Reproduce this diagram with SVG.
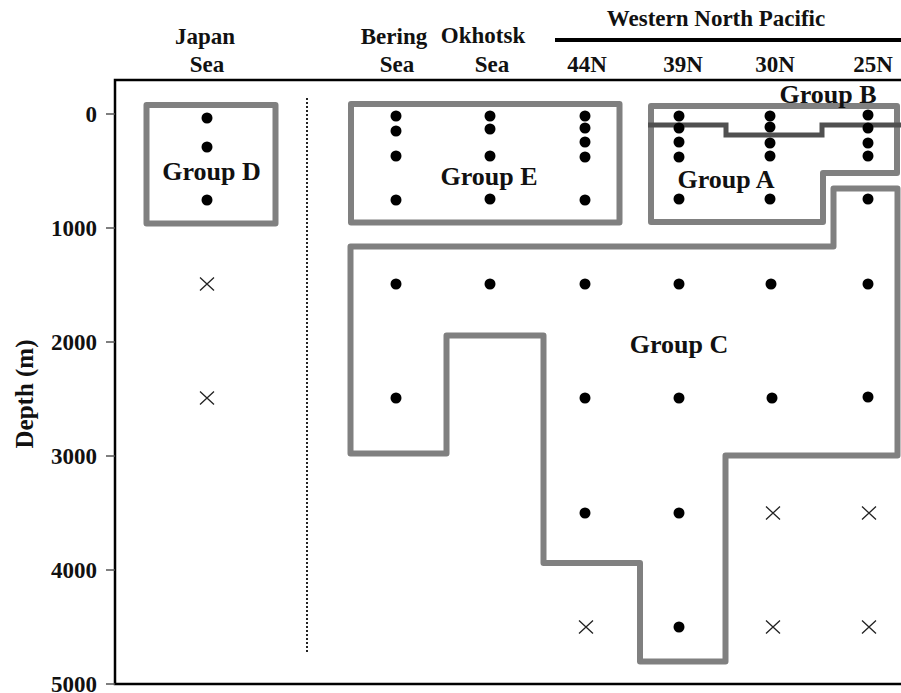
<svg xmlns="http://www.w3.org/2000/svg" width="901" height="693" viewBox="0 0 901 693">
  <style>
    .lbl { font-family: "Liberation Serif", "Times New Roman", serif; font-weight: bold; font-size: 23px; fill: #111; }
    .grp { font-family: "Liberation Serif", "Times New Roman", serif; font-weight: bold; font-size: 26px; fill: #111; text-anchor: middle; }
    .box { fill: none; stroke: #808080; stroke-width: 6; stroke-linejoin: round; }
    .dot { fill: #000; }
    .x { stroke: #222; stroke-width: 1.3; fill: none; }
    .tick { stroke: #555; stroke-width: 1.5; }
    .axis { stroke: #000; stroke-width: 2.5; fill: none; }
  </style>
  <defs>
    <circle id="pt" r="5.5" class="dot"/>
    <path id="cx" class="x" d="M-7,-6.5 L7,6.5 M-7,6.5 L7,-6.5"/>
  </defs>
  <rect width="901" height="693" fill="#fff"/>

  <!-- frame -->
  <g id="frame">
    <path class="axis" d="M901,80 H115 V684 H901"/>
    <line class="tick" x1="106" y1="114" x2="115" y2="114"/>
    <line class="tick" x1="106" y1="228" x2="115" y2="228"/>
    <line class="tick" x1="106" y1="342" x2="115" y2="342"/>
    <line class="tick" x1="106" y1="456" x2="115" y2="456"/>
    <line class="tick" x1="106" y1="570" x2="115" y2="570"/>
    <line class="tick" x1="106" y1="684" x2="115" y2="684"/>
    <g class="lbl" text-anchor="end">
      <text x="97" y="122">0</text>
      <text x="97" y="236">1000</text>
      <text x="97" y="350">2000</text>
      <text x="97" y="464">3000</text>
      <text x="97" y="578">4000</text>
      <text x="97" y="692">5000</text>
    </g>
    <text class="lbl" style="font-size:25px" text-anchor="middle" transform="translate(33,394) rotate(-90)">Depth (m)</text>
    <line x1="307" y1="98" x2="307" y2="652" stroke="#222" stroke-width="2" stroke-dasharray="2,2"/>
  </g>

  <!-- column headings -->
  <g id="headings" class="lbl" text-anchor="middle">
    <text x="205" y="44">Japan</text>
    <text x="207" y="72">Sea</text>
    <text x="394" y="44">Bering</text>
    <text x="397" y="72">Sea</text>
    <text x="483" y="43">Okhotsk</text>
    <text x="492" y="72">Sea</text>
    <text x="716" y="26">Western North Pacific</text>
    <text x="587" y="72">44N</text>
    <text x="683" y="72">39N</text>
    <text x="775" y="72">30N</text>
    <text x="873" y="72">25N</text>
    <line x1="555" y1="40" x2="901" y2="40" stroke="#000" stroke-width="4"/>
  </g>

  <!-- group outlines -->
  <g id="group-d">
    <rect class="box" x="146.5" y="105" width="129" height="118.5"/>
    <text class="grp" x="211.5" y="180">Group D</text>
  </g>
  <g id="group-e">
    <rect class="box" x="351" y="104" width="268.5" height="118.5"/>
    <text class="grp" x="489" y="185">Group E</text>
  </g>
  <g id="group-a">
    <path class="box" d="M651,106 H897 V173 H823 V222 H651 Z"/>
    <text class="grp" x="726" y="188">Group A</text>
  </g>
  <g id="group-b">
    <path d="M648,125 H726 V135 H822 V125 H901" fill="none" stroke="#505050" stroke-width="5"/>
    <text class="grp" x="828" y="103">Group B</text>
  </g>
  <g id="group-c">
    <path class="box" d="M350.5,246.5 H833.5 V188.5 H897.5 V455.5 H725.5 V661.5 H640 V563 H543.5 V335.5 H446.5 V453.5 H350.5 Z"/>
    <text class="grp" x="679" y="353">Group C</text>
  </g>

  <!-- sampling points -->
  <g id="japan-sea">
    <use href="#pt" x="207" y="118"/><use href="#pt" x="207" y="147"/><use href="#pt" x="207" y="200"/>
    <use href="#cx" x="207" y="284"/><use href="#cx" x="207" y="398"/>
  </g>
  <g id="bering-sea">
    <use href="#pt" x="396" y="116"/><use href="#pt" x="396" y="131"/><use href="#pt" x="396" y="156"/><use href="#pt" x="396" y="200"/>
    <use href="#pt" x="396" y="284"/><use href="#pt" x="396" y="398"/>
  </g>
  <g id="okhotsk-sea">
    <use href="#pt" x="490" y="116"/><use href="#pt" x="490" y="129"/><use href="#pt" x="490" y="156"/><use href="#pt" x="490" y="199"/>
    <use href="#pt" x="490" y="284"/>
  </g>
  <g id="st-44n">
    <use href="#pt" x="585" y="116"/><use href="#pt" x="585" y="128"/><use href="#pt" x="585" y="142"/><use href="#pt" x="585" y="157"/><use href="#pt" x="585" y="200"/>
    <use href="#pt" x="585" y="284"/><use href="#pt" x="585" y="398"/><use href="#pt" x="585" y="513"/>
    <use href="#cx" x="586" y="627"/>
  </g>
  <g id="st-39n">
    <use href="#pt" x="679" y="116"/><use href="#pt" x="679" y="128"/><use href="#pt" x="679" y="142"/><use href="#pt" x="679" y="157"/><use href="#pt" x="679" y="199"/>
    <use href="#pt" x="679" y="284"/><use href="#pt" x="679" y="398"/><use href="#pt" x="679" y="513"/><use href="#pt" x="679" y="627"/>
  </g>
  <g id="st-30n">
    <use href="#pt" x="770" y="116"/><use href="#pt" x="770" y="127"/><use href="#pt" x="770" y="143"/><use href="#pt" x="770" y="156"/><use href="#pt" x="770" y="199"/>
    <use href="#pt" x="771" y="284"/><use href="#pt" x="772" y="398"/>
    <use href="#cx" x="773" y="513"/><use href="#cx" x="773" y="627"/>
  </g>
  <g id="st-25n">
    <use href="#pt" x="868" y="115"/><use href="#pt" x="868" y="128"/><use href="#pt" x="868" y="143"/><use href="#pt" x="868" y="156"/><use href="#pt" x="868" y="199"/>
    <use href="#pt" x="868" y="284"/><use href="#pt" x="868" y="397"/>
    <use href="#cx" x="869" y="513"/><use href="#cx" x="869" y="627"/>
  </g>
</svg>
